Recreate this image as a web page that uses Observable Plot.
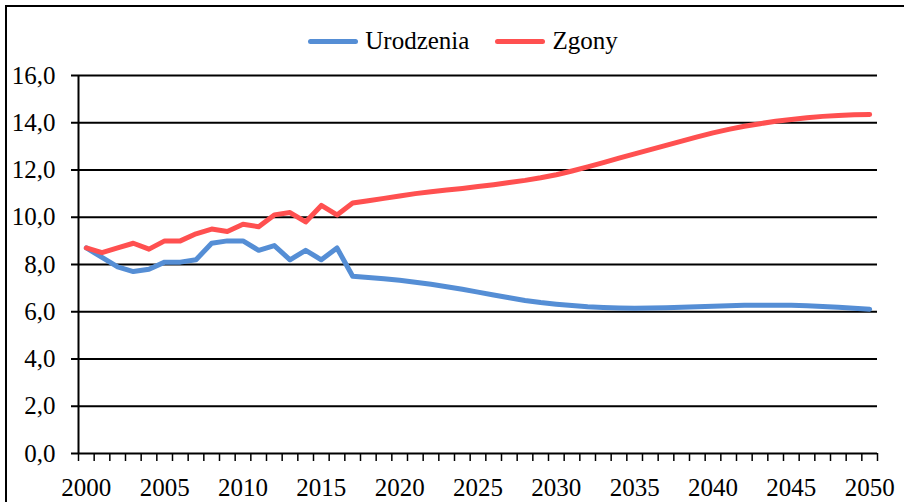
<!DOCTYPE html>
<html>
<head>
<meta charset="utf-8">
<script src="https://cdn.jsdelivr.net/npm/d3@7"></script>
<script src="https://cdn.jsdelivr.net/npm/@observablehq/plot@0.6"></script>
<style>
  html, body { margin: 0; padding: 0; background: #fff; overflow: hidden; }
  #wrap { position: relative; width: 904px; height: 502px; font-family: 'Liberation Serif', serif; }
  #wrap svg text, #legend, #legend span { font-family: 'Liberation Serif', serif !important; }
  #frame { position: absolute; left: 5px; top: 5px; width: 920px; height: 520px; border: 2px solid #000; box-sizing: border-box; }
  #chart { position: absolute; left: 0; top: 0; }
  #legend { position: absolute; top: 27px; left: 0; width: 904px; display: flex; justify-content: center; align-items: center; font-size: 25px; color: #000; padding-left: 22px; box-sizing: border-box; }
  .item { display: flex; align-items: center; margin: 0 13px; }
  .sw { width: 50px; height: 5px; border-radius: 3px; margin-right: 7px; }
</style>
</head>
<body>
<div id="wrap">
  <div id="frame"></div>
  <div id="chart"></div>
  <div id="legend"></div>
</div>
<script>
const years = d3.range(2000, 2051);
const seriesNames = ["Urodzenia", "Zgony"];
const seriesColors = ["#558ed5", "#ff5050"];
const urodzenia = [
  8.7, 8.3, 7.9, 7.7, 7.8, 8.1, 8.1, 8.2, 8.9, 9.0,
  9.0, 8.6, 8.8, 8.2, 8.6, 8.2, 8.7, 7.5, 7.45, 7.4,
  7.33, 7.25, 7.16, 7.06, 6.95, 6.83, 6.71, 6.59, 6.48, 6.39,
  6.32, 6.26, 6.21, 6.18, 6.16, 6.15, 6.16, 6.17, 6.19, 6.21,
  6.23, 6.25, 6.27, 6.28, 6.28, 6.27, 6.25, 6.22, 6.19, 6.15,
  6.11
];
const zgony = [
  8.7, 8.5, 8.7, 8.9, 8.65, 9.0, 9.0, 9.3, 9.5, 9.4,
  9.7, 9.6, 10.1, 10.2, 9.8, 10.5, 10.1, 10.6, 10.7, 10.8,
  10.9, 11.0, 11.08, 11.15, 11.22, 11.3, 11.38, 11.47, 11.56, 11.67,
  11.8, 11.96, 12.13, 12.31, 12.5, 12.68, 12.86, 13.04, 13.22, 13.4,
  13.57, 13.72, 13.85, 13.96, 14.06, 14.14, 14.21, 14.27, 14.31, 14.34,
  14.35
];
const yTicks = [0, 2, 4, 6, 8, 10, 12, 14, 16];
const xLabelTicks = [2000, 2005, 2010, 2015, 2020, 2025, 2030, 2035, 2040, 2045, 2050];

const data = [];
years.forEach((yr, i) => {
  data.push({year: yr, value: urodzenia[i], series: seriesNames[0]});
  data.push({year: yr, value: zgony[i], series: seriesNames[1]});
});
const categoryEdges = years.map(y => y - 0.5).concat([years[years.length - 1] + 0.5]);
const fmt = v => d3.format(".1f")(v).replace(".", ",");

const chart = Plot.plot({
  width: 904,
  height: 502,
  marginLeft: 78,
  marginRight: 27,
  marginTop: 75,
  marginBottom: 49,
  style: {fontFamily: "'Liberation Serif', serif", fontSize: "25px", color: "#000", background: "transparent", overflow: "visible"},
  x: {domain: [categoryEdges[0], categoryEdges[categoryEdges.length - 1]]},
  y: {domain: [0, 16]},
  color: {domain: seriesNames, range: seriesColors},
  marks: [
    Plot.gridY(yTicks, {stroke: "#000", strokeOpacity: 1, strokeWidth: 2}),
    Plot.ruleX([categoryEdges[0]], {stroke: "#000", strokeWidth: 2}),
    Plot.axisY(yTicks, {tickSize: 7, tickPadding: 16, tickFormat: fmt, label: null, strokeWidth: 2, fontSize: 25}),
    Plot.axisX(categoryEdges, {tickSize: 8, tickFormat: () => "", label: null, strokeWidth: 1.5}),
    Plot.axisX(xLabelTicks, {tickSize: 0, tickPadding: 25, tickFormat: d => String(d), label: null, fontSize: 25}),
    Plot.line(data, {x: "year", y: "value", stroke: "series", z: "series", strokeWidth: 5, strokeLinejoin: "round", strokeLinecap: "round"})
  ]
});
chart.setAttribute("font-family", "Liberation Serif, serif");
document.getElementById("chart").appendChild(chart);

const legend = document.getElementById("legend");
seriesNames.forEach((name, i) => {
  const item = document.createElement("div");
  item.className = "item";
  const sw = document.createElement("div");
  sw.className = "sw";
  sw.style.background = seriesColors[i];
  const lab = document.createElement("span");
  lab.textContent = name;
  item.appendChild(sw);
  item.appendChild(lab);
  legend.appendChild(item);
});
</script>
</body>
</html>
